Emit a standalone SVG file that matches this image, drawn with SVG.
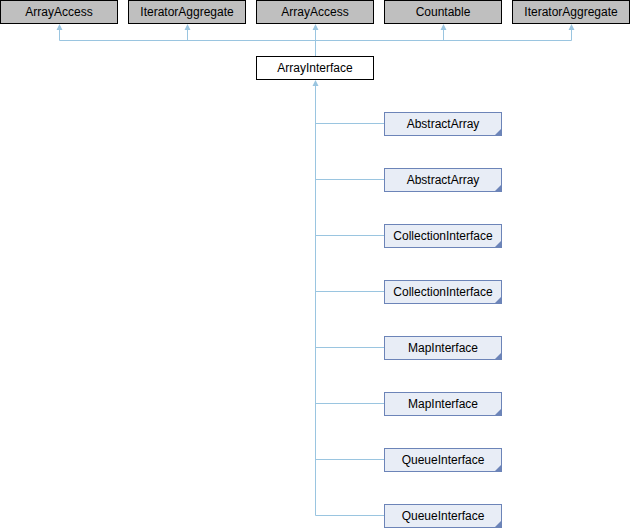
<svg xmlns="http://www.w3.org/2000/svg" width="630" height="528" viewBox="0 0 630 528">
<style>
text{font-family:"Liberation Sans",Arial,sans-serif;font-size:12px;fill:#000;text-anchor:middle}
.ext{fill:#bfbfbf;stroke:#000;stroke-width:1}
.main{fill:#fff;stroke:#000;stroke-width:1}
.cls{fill:#e8edf6;stroke:#6c84b8;stroke-width:1}
.tri{fill:#6c84b8}
.edge{fill:none;stroke:#9ac5e0;stroke-width:1}
.ah{fill:#9ac5e0}
</style>
<rect width="630" height="528" fill="#fff"/>
<g id="connectors">
<path class="edge" d="M59.5,30 V40.5 H571.5 V30 M187.5,30 V40.5 M315.5,30 V56 M443.5,30 V40.5"/>
<path class="ah" d="M59.5,24 l-3,6 h6 z M187.5,24 l-3,6 h6 z M315.5,24 l-3,6 h6 z M443.5,24 l-3,6 h6 z M571.5,24 l-3,6 h6 z"/>
<path class="edge" d="M315.5,86 V515.5 H384 M315.5,123.5 H384 M315.5,179.5 H384 M315.5,235.5 H384 M315.5,291.5 H384 M315.5,347.5 H384 M315.5,403.5 H384 M315.5,459.5 H384"/>
<path class="ah" d="M315.5,80 l-3,6 h6 z"/>
</g>
<g id="n_ArrayAccess1"><rect class="ext" x="0.5" y="0.5" width="117" height="23"/><text x="59" y="16">ArrayAccess</text></g>
<g id="n_IteratorAggregate1"><rect class="ext" x="128.5" y="0.5" width="117" height="23"/><text x="187" y="16">IteratorAggregate</text></g>
<g id="n_ArrayAccess2"><rect class="ext" x="256.5" y="0.5" width="117" height="23"/><text x="315" y="16">ArrayAccess</text></g>
<g id="n_Countable"><rect class="ext" x="384.5" y="0.5" width="117" height="23"/><text x="443" y="16">Countable</text></g>
<g id="n_IteratorAggregate2"><rect class="ext" x="512.5" y="0.5" width="117" height="23"/><text x="571" y="16">IteratorAggregate</text></g>
<g id="n_ArrayInterface"><rect class="main" x="256.5" y="56.5" width="117" height="23"/><text x="315" y="72">ArrayInterface</text></g>
<g id="n_AbstractArray1"><rect class="cls" x="384.5" y="112.5" width="117" height="23"/><path class="tri" d="M501,129 v6 h-6 z"/><text x="443" y="128">AbstractArray</text></g>
<g id="n_AbstractArray2"><rect class="cls" x="384.5" y="168.5" width="117" height="23"/><path class="tri" d="M501,185 v6 h-6 z"/><text x="443" y="184">AbstractArray</text></g>
<g id="n_CollectionInterface1"><rect class="cls" x="384.5" y="224.5" width="117" height="23"/><path class="tri" d="M501,241 v6 h-6 z"/><text x="443" y="240">CollectionInterface</text></g>
<g id="n_CollectionInterface2"><rect class="cls" x="384.5" y="280.5" width="117" height="23"/><path class="tri" d="M501,297 v6 h-6 z"/><text x="443" y="296">CollectionInterface</text></g>
<g id="n_MapInterface1"><rect class="cls" x="384.5" y="336.5" width="117" height="23"/><path class="tri" d="M501,353 v6 h-6 z"/><text x="443" y="352">MapInterface</text></g>
<g id="n_MapInterface2"><rect class="cls" x="384.5" y="392.5" width="117" height="23"/><path class="tri" d="M501,409 v6 h-6 z"/><text x="443" y="408">MapInterface</text></g>
<g id="n_QueueInterface1"><rect class="cls" x="384.5" y="448.5" width="117" height="23"/><path class="tri" d="M501,465 v6 h-6 z"/><text x="443" y="464">QueueInterface</text></g>
<g id="n_QueueInterface2"><rect class="cls" x="384.5" y="504.5" width="117" height="23"/><path class="tri" d="M501,521 v6 h-6 z"/><text x="443" y="520">QueueInterface</text></g>
</svg>
